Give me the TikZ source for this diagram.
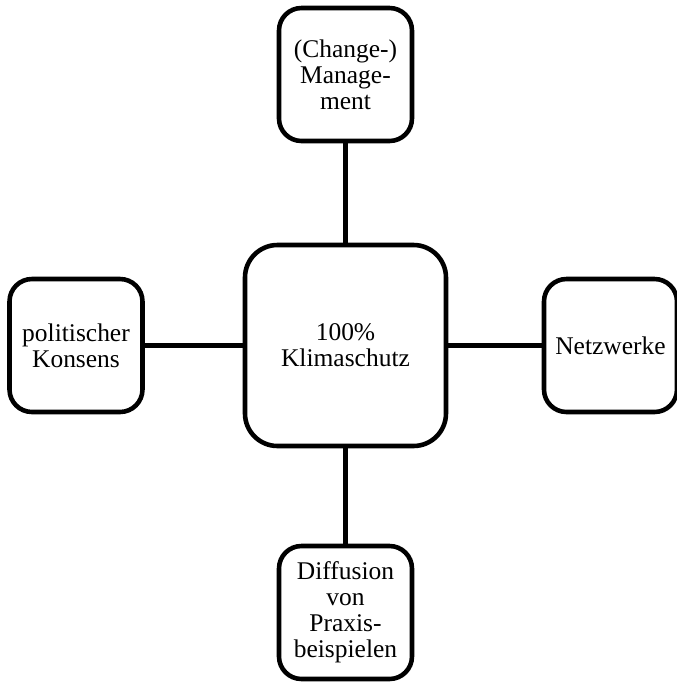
\documentclass[tikz,border=0pt]{standalone}
\usepackage{fontspec}
\setmainfont{Liberation Serif}
\colorlet{box edge}{black}
\tikzset{hub/.style={draw=box edge, line width=2.6pt, rounded corners=0.65cm,
      minimum size=4.02cm, align=center, inner sep=0pt,
      font=\fontsize{14.5}{14.8}\selectfont},
    topic/.style={hub, rounded corners=0.45cm, minimum size=2.66cm},
    link/.style={draw=box edge, line width=2.6pt}}

\begin{document}
\begin{tikzpicture}
    \useasboundingbox (-6.91,-6.73) rectangle (6.63,6.91);
    \node[hub] (ks) at (0,0) {100\%\\Klimaschutz};
    \node[topic] (mgmt) at (0,5.42) {(Change-)\\Manage-\\ment};
    \node[topic] (pol) at (-5.39,0) {politischer\\Konsens};
    \node[topic] (netz) at (5.3,0) {Netzwerke};
    \node[topic] (diff) at (0,-5.34) {Diffusion\\von\\Praxis-\\beispielen};
    \draw[link] (ks) -- (mgmt);
    \draw[link] (ks) -- (pol);
    \draw[link] (ks) -- (netz);
    \draw[link] (ks) -- (diff);
\end{tikzpicture}
\end{document}
